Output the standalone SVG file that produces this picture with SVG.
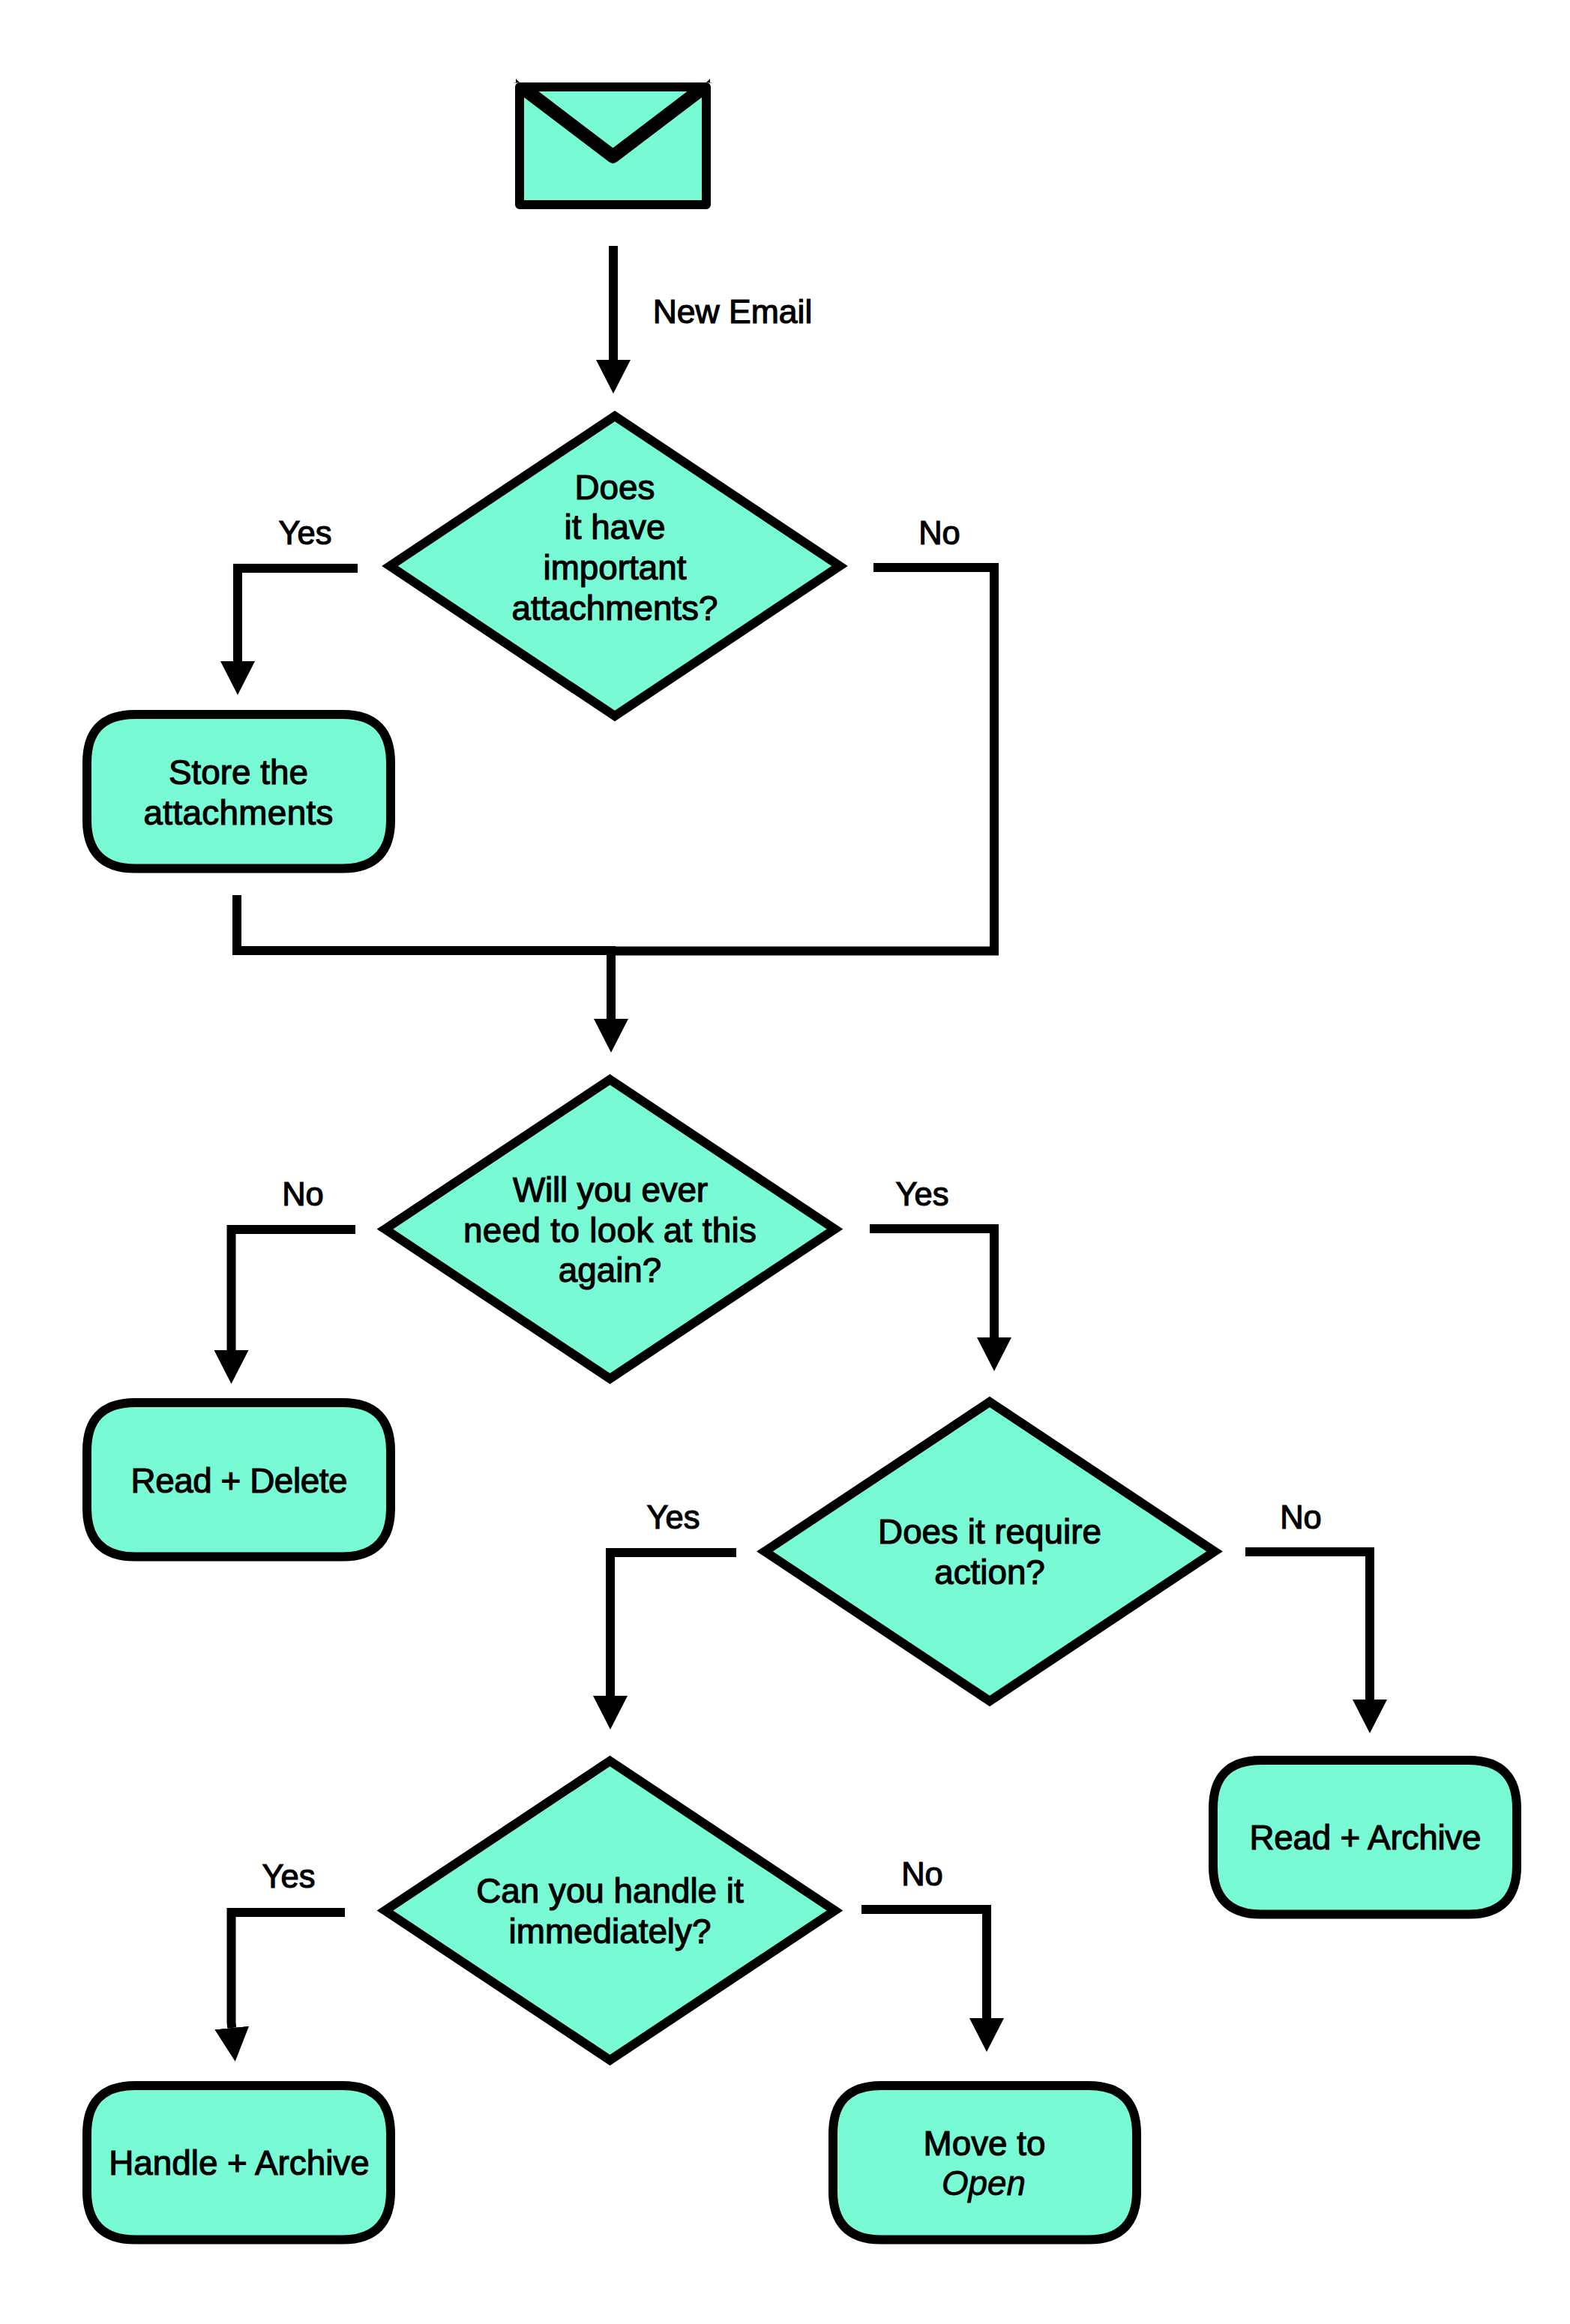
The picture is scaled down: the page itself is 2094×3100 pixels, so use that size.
<svg xmlns="http://www.w3.org/2000/svg" xmlns:xlink="http://www.w3.org/1999/xlink" width="2094" height="3100" viewBox="0 0 2094 3100">
  <style>
    .shape { fill: #78fbd4; stroke: #000; stroke-width: 12; }
    .wire { fill: none; stroke: #000; stroke-width: 12; stroke-linejoin: miter; marker-end: url(#head); }
    .plain { marker-end: none; }
    text { font-family: "Liberation Sans", Arial, Helvetica, sans-serif; font-size: 45.8px; fill: #000; stroke: #000; stroke-width: 1.2px; text-anchor: middle; }
    .label { font-size: 43.5px; }
    .em { font-style: italic; stroke-width: 0.8px; }
  </style>
  <defs>
    <marker id="head" markerUnits="userSpaceOnUse" markerWidth="46" markerHeight="46" refX="0" refY="23" orient="auto" viewBox="0 0 46 46">
      <path d="M0 0L45 23L0 46Z" fill="#000"/>
    </marker>
    <path id="box" d="M64 0H341C386 0 405 24 405 64V141.500C405 181 386 205.500 341 205.500H64C19 205.500 0 181 0 141.500V64C0 24 19 0 64 0Z"/>
  </defs>

  <!-- connectors between the decision points -->
  <g id="connectors">
    <path class="wire" d="M818 328V480"/>
    <path class="wire" d="M477 758H317V882"/>
    <path class="wire plain" d="M1165 757H1326V1268.500H815"/>
    <path class="wire plain" d="M316 1194V1268H821"/>
    <path class="wire" d="M815 1268V1359"/>
    <path class="wire" d="M474 1640H308.500V1801"/>
    <path class="wire" d="M1160 1639H1326V1784"/>
    <path class="wire" d="M982 2071H814V2262"/>
    <path class="wire" d="M1661 2070H1827V2267"/>
    <path class="wire" d="M460 2551H308.500V2698L309.200 2705"/>
    <path class="wire" d="M1149 2547H1316V2692"/>
  </g>

  <g id="new-email">
    <rect class="shape" x="693" y="116" width="249" height="157" stroke-linejoin="round"/>
    <polyline points="697,117 817.500,208.700 938,117" fill="none" stroke="#000" stroke-width="18" stroke-linejoin="round"/>
    <polygon points="684,111 688,110 688,105 693,110" fill="#000"/>
    <polygon points="951,111 947,110 947,105 942,110" fill="#000"/>
    <text class="label" x="977" y="431" style="font-size:44.500px">New Email</text>
  </g>

  <g id="attachments-question">
    <polygon class="shape" points="820,555 1120,755 820,955 520,755"/>
    <text x="820" y="665.500">Does</text>
    <text x="820" y="719">it have</text>
    <text x="820" y="773">important</text>
    <text x="820" y="827">attachments?</text>
    <text class="label" x="407" y="726">Yes</text>
    <text class="label" x="1253" y="726">No</text>
  </g>

  <g id="store-attachments">
    <use href="#box" class="shape" x="116" y="953"/>
    <text x="318" y="1045.500">Store the</text>
    <text x="318" y="1099.500" textLength="253">attachments</text>
  </g>

  <g id="look-again-question">
    <polygon class="shape" points="813.500,1440 1113.500,1639.500 813.500,1839 513.500,1639.500"/>
    <text x="814" y="1603" textLength="260">Will you ever</text>
    <text x="813.500" y="1657" textLength="391">need to look at this</text>
    <text x="813.500" y="1710">again?</text>
    <text class="label" x="404" y="1607.500">No</text>
    <text class="label" x="1230" y="1607.500">Yes</text>
  </g>

  <g id="read-delete">
    <use href="#box" class="shape" x="116" y="1871"/>
    <text x="319" y="1991" textLength="289">Read + Delete</text>
  </g>

  <g id="action-question">
    <polygon class="shape" points="1320,1870 1620,2069.500 1320,2269 1020,2069.500"/>
    <text x="1320" y="2059">Does it require</text>
    <text x="1320" y="2113">action?</text>
    <text class="label" x="898" y="2039">Yes</text>
    <text class="label" x="1735" y="2039">No</text>
  </g>

  <g id="read-archive">
    <use href="#box" class="shape" x="1618" y="2348"/>
    <text x="1821" y="2467" textLength="309">Read + Archive</text>
  </g>

  <g id="handle-question">
    <polygon class="shape" points="813.500,2349 1113.500,2548.500 813.500,2748 513.500,2548.500"/>
    <text x="813.500" y="2538">Can you handle it</text>
    <text x="813.500" y="2592">immediately?</text>
    <text class="label" x="385" y="2518">Yes</text>
    <text class="label" x="1230" y="2514.500">No</text>
  </g>

  <g id="handle-archive">
    <use href="#box" class="shape" x="116" y="2782"/>
    <text x="319" y="2900.500">Handle + Archive</text>
  </g>

  <g id="move-to-open">
    <use href="#box" class="shape" x="1111" y="2782"/>
    <text x="1313" y="2874.500">Move to</text>
    <text class="em" x="1312" y="2928">Open</text>
  </g>
</svg>
